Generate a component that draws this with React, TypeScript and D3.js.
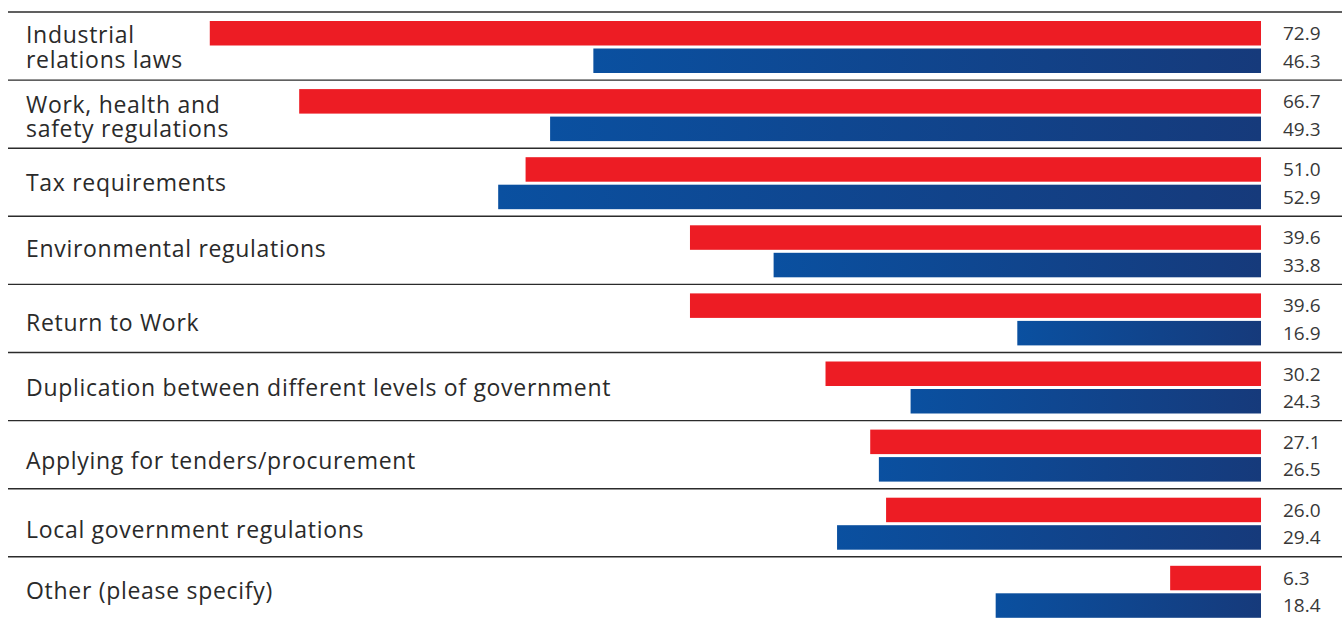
import React from "react";
import * as d3 from "d3";

const categories: string[][] = [
  ["Industrial", "relations laws"],
  ["Work, health and", "safety regulations"],
  ["Tax requirements"],
  ["Environmental regulations"],
  ["Return to Work"],
  ["Duplication between different levels of government"],
  ["Applying for tenders/procurement"],
  ["Local government regulations"],
  ["Other (please specify)"],
];
const redValues = [72.9, 66.7, 51.0, 39.6, 39.6, 30.2, 27.1, 26.0, 6.3];
const blueValues = [46.3, 49.3, 52.9, 33.8, 16.9, 24.3, 26.5, 29.4, 18.4];

// small vertical nudges of the category labels, as in the original layout
const labelShift = [1, 2.5, 0, -2, 4, 1, 6, 7, 0];

const W = 1342;
const H = 621;
const ROW0 = 12;
const ROWH = 68.1;
const FONT = "'Open Sans', sans-serif";

export default function App() {
  const idx = categories.map((_, i) => i);
  const y = d3
    .scaleBand<number>()
    .domain(idx)
    .range([ROW0, ROW0 + ROWH * categories.length])
    .paddingInner(0)
    .paddingOuter(0);
  const x = d3.scaleLinear().domain([0, 80]).range([1261, 1261 - 80 * 14.42]);
  const barH = 24.5;
  return (
    <svg
      width={W}
      height={H}
      style={{ position: "absolute", left: 0, top: 0, display: "block", background: "#fff" }}
    >
      <defs>
        <linearGradient id="blueGrad" x1="0" x2="1" y1="0" y2="0">
          <stop offset="0%" stopColor="#0a50a0" />
          <stop offset="100%" stopColor="#163a7b" />
        </linearGradient>
      </defs>
      {idx.map((i) => {
        const top = y(i)!;
        const mid = top + y.bandwidth() / 2 + labelShift[i];
        const lines = categories[i];
        const lh = 24.5;
        return (
          <g key={i}>
            <line x1={8} x2={W} y1={top} y2={top} stroke="#2b2b2b" strokeWidth={1.4} />
            <rect x={x(redValues[i])} y={top + 9} width={x(0) - x(redValues[i])} height={barH} fill="#ed1c24" />
            <rect
              x={x(blueValues[i])}
              y={top + 36.5}
              width={x(0) - x(blueValues[i])}
              height={barH}
              fill="url(#blueGrad)"
            />
            <text x={1283} y={top + 9 + barH / 2} dy="0.36em" fontFamily={FONT} fontSize={19} fill="#383838">
              {redValues[i].toFixed(1)}
            </text>
            <text x={1283} y={top + 36.5 + barH / 2} dy="0.36em" fontFamily={FONT} fontSize={19} fill="#383838">
              {blueValues[i].toFixed(1)}
            </text>
            {lines.map((t, k) => (
              <text
                key={k}
                x={26}
                y={mid + (k - (lines.length - 1) / 2) * lh}
                dy="0.37em"
                fontFamily={FONT}
                fontSize={23}
                letterSpacing={0.7}
                fill="#2a2a2a"
              >
                {t}
              </text>
            ))}
          </g>
        );
      })}
    </svg>
  );
}
